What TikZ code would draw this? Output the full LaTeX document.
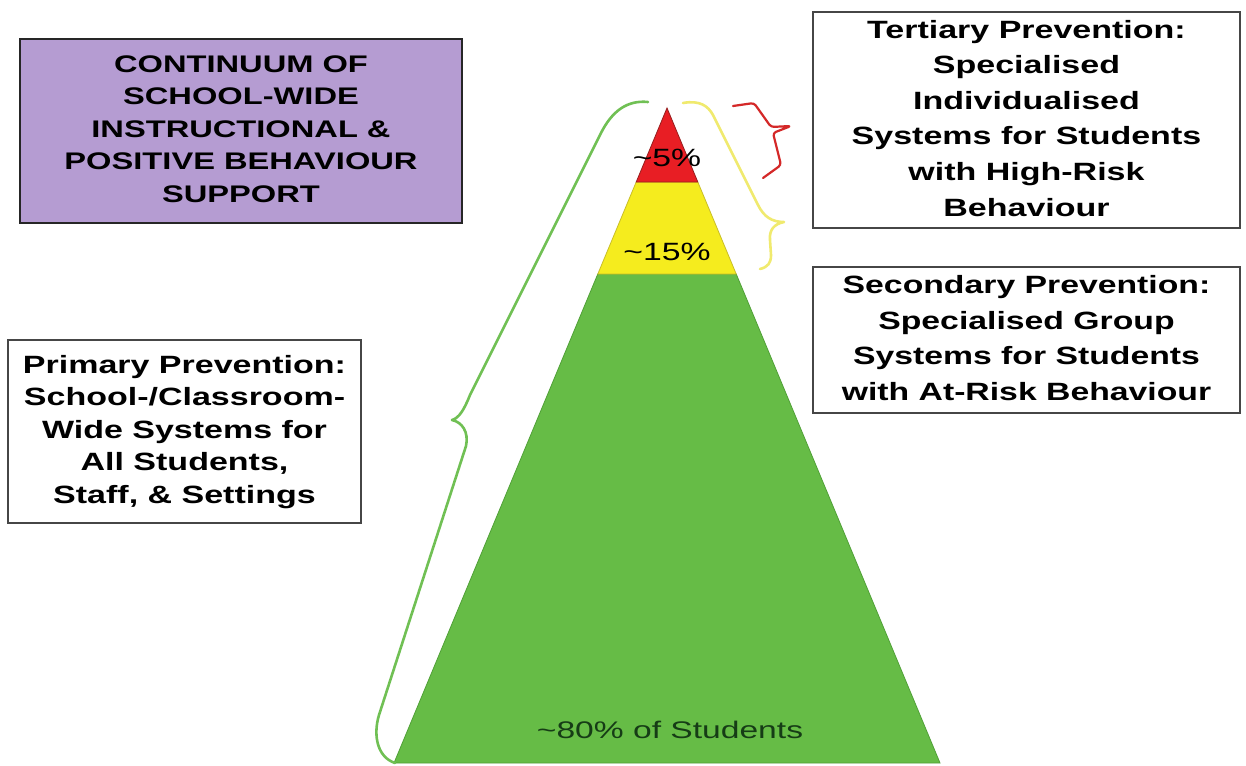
\documentclass[tikz,border=0pt]{standalone}
\usepackage{fontspec}
\setmainfont{Liberation Sans}
\usepackage{graphicx}
\definecolor{pgreen}{RGB}{102,188,70}
\definecolor{pgreend}{RGB}{80,160,55}
\definecolor{pyellow}{RGB}{245,236,30}
\definecolor{pyellowd}{RGB}{200,190,40}
\definecolor{pred}{RGB}{232,30,36}
\definecolor{predd}{RGB}{150,30,30}
\definecolor{ppurple}{RGB}{181,156,210}
\definecolor{boxgray}{RGB}{70,70,70}
\definecolor{bgreen}{RGB}{112,192,84}
\definecolor{byellow}{RGB}{240,234,110}
\definecolor{bred}{RGB}{212,40,40}
\definecolor{darkg}{RGB}{22,60,22}
\newcommand{\mywide}[2]{\scalebox{#1}[1]{\begin{tabular}{@{}c@{}}#2\end{tabular}}}
\newcommand{\hs}[2]{\scalebox{#1}[1]{#2}}
\tikzset{
  txtbox/.style={draw=boxgray, line width=1.6pt, fill=white, inner sep=0pt, align=center,
    font=\bfseries\fontsize{25}{35.6}\selectfont},
  pct/.style={inner sep=0pt, font=\fontsize{25}{29}\selectfont},
  brace/.style={line width=2.6pt, line cap=round, line join=round}
}
\begin{document}
\begin{tikzpicture}[x=1pt,y=-1pt]
\useasboundingbox (0,0) rectangle (1246,765);
\fill[white] (0,0) rectangle (1246,765);

% pyramid
\coordinate (apex) at (667,108);
\coordinate (rl) at (636.2,182);
\coordinate (rr) at (697.8,182);
\coordinate (yl) at (597.8,274);
\coordinate (yr) at (736.2,274);
\coordinate (gl) at (394,763);
\coordinate (gr) at (940,763);
\filldraw[fill=pgreen, draw=pgreend, line width=0.8pt] (yl) -- (yr) -- (gr) -- (gl) -- cycle;
\filldraw[fill=pyellow, draw=pyellowd, line width=0.8pt] (rl) -- (rr) -- (yr) -- (yl) -- cycle;
\filldraw[fill=pred, draw=predd, line width=0.8pt] (apex) -- (rr) -- (rl) -- cycle;

\node[pct] (p5) at (667,158) {\hs{1.35}{\textasciitilde5\%}};
\node[pct] (p15) at (667,252) {\hs{1.35}{\textasciitilde15\%}};
\node[pct, text=darkg, font=\fontsize{24}{28}\selectfont] (p80) at (670,730) {\hs{1.4}{\textasciitilde80\% of Students}};

% braces
\draw[brace, bgreen] (648,102) .. controls (628,100) and (612,110) .. (600,135)
  -- (470,395) .. controls (464,410) and (459,418) .. (452,420)
  .. controls (462,422) and (469,432) .. (466,446)
  -- (379,715) .. controls (373,735) and (377,757) .. (395,763);
\draw[brace, byellow] (683,103) .. controls (700,100) and (708,106) .. (713,115)
  -- (758,205) .. controls (764,217) and (772,222) .. (784,222)
  .. controls (774,224) and (769,230) .. (770,240)
  -- (771,255) .. controls (771,263) and (768,267) .. (760,269);
\draw[brace, bred, line width=2.2pt, rounded corners=3pt] (733,106) -- (754,103) -- (771,127) -- (791,126)
  -- (773,133) -- (781,165) -- (763,178);

% boxes
\node[txtbox, fill=ppurple, draw=black!85, line width=2pt, minimum width=442pt, minimum height=184pt,
  font=\bfseries\fontsize{24}{32.5}\selectfont] (title) at (241,131)
  {\mywide{1.36}{CONTINUUM OF\\SCHOOL-WIDE\\INSTRUCTIONAL \&\\POSITIVE BEHAVIOUR\\SUPPORT}};
\node[txtbox, minimum width=427pt, minimum height=216pt] (tert) at (1026.5,120)
  {\mywide{1.36}{Tertiary Prevention:\\Specialised\\Individualised\\Systems for Students\\with High-Risk\\Behaviour}};
\node[txtbox, minimum width=427pt, minimum height=146pt, font=\bfseries\fontsize{25}{35.7}\selectfont] (sec) at (1026.5,340)
  {\mywide{1.35}{Secondary Prevention:\\Specialised Group\\Systems for Students\\with At-Risk Behaviour}};
\node[txtbox, minimum width=353pt, minimum height=183pt, font=\bfseries\fontsize{25}{32.5}\selectfont] (prim) at (184.5,431.5)
  {\mywide{1.36}{Primary Prevention:\\School-/Classroom-\\Wide Systems for\\All Students,\\Staff, \& Settings}};
\end{tikzpicture}
\end{document}
